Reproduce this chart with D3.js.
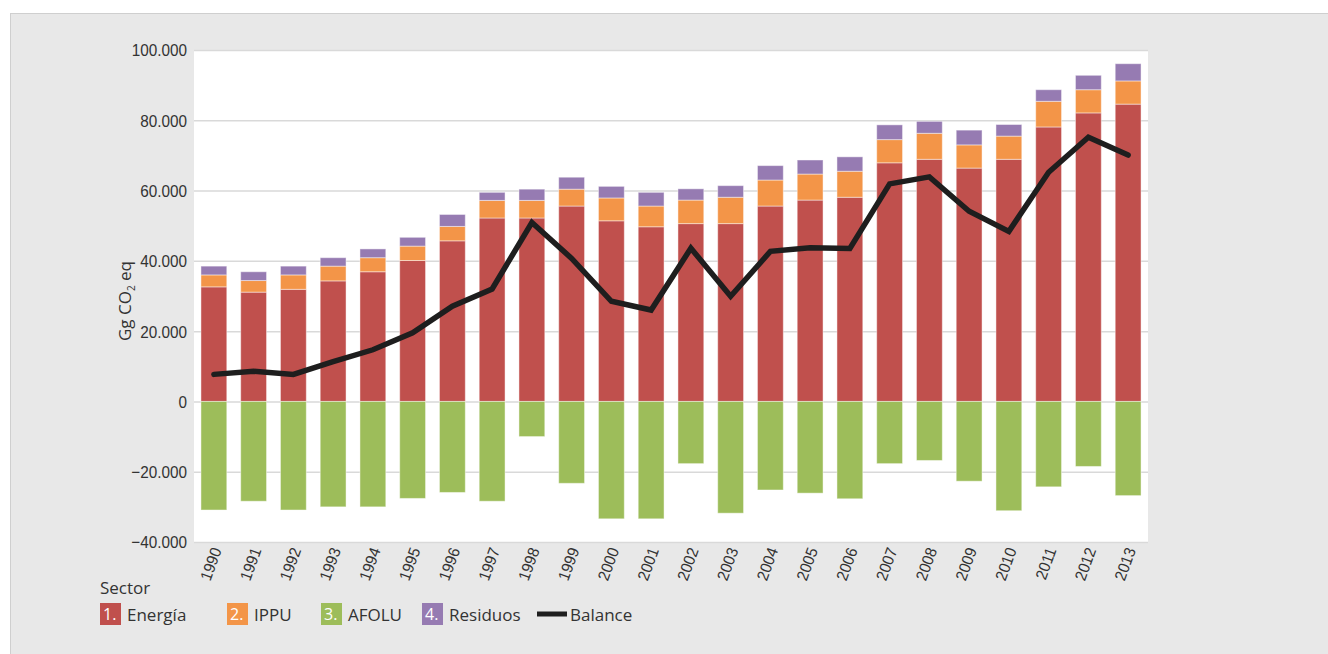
<!DOCTYPE html>
<html>
<head>
<meta charset="utf-8">
<script src="https://cdn.jsdelivr.net/npm/d3@7"></script>
<style>
  html, body { margin: 0; padding: 0; background: #ffffff; }
  svg { display: block; }
</style>
</head>
<body>
<svg id="chart" width="1328" height="654"></svg>
<script>
// ---- Data (Gg CO2 eq) ----
const years = ["1990","1991","1992","1993","1994","1995","1996","1997","1998","1999","2000","2001",
               "2002","2003","2004","2005","2006","2007","2008","2009","2010","2011","2012","2013"];
const energia  = [32600,31100,31900,34300,36900,40100,45700,52200,52200,55600,51400,49700,
                  50600,50600,55600,57300,58100,67900,68900,66400,68900,78100,82100,84600];
const ippu     = [3400,3300,4100,4200,4000,4100,4100,5000,5000,4800,6500,5900,
                  6700,7500,7400,7400,7400,6600,7400,6600,6600,7300,6600,6600];
const afolu    = [-30900,-28400,-30900,-30000,-30000,-27600,-25900,-28400,-10000,-23300,-33400,-33400,
                  -17700,-31800,-25200,-26100,-27700,-17700,-16800,-22700,-31100,-24300,-18500,-26800];
const residuos = [2500,2500,2500,2400,2500,2500,3400,2300,3200,3400,3300,3900,
                  3200,3300,4100,4000,4100,4200,3400,4200,3300,3300,4100,4900];
const balance  = [7700,8600,7700,11300,14700,19500,27100,32000,50900,40700,28500,26000,
                  43600,29900,42700,43700,43500,61900,63900,54100,48400,65200,75200,70100];
const yTicks = [-40000,-20000,0,20000,40000,60000,80000,100000];
const seriesKeys = ["energia","ippu","afolu","residuos"];
const seriesNames = ["Energía","IPPU","AFOLU","Residuos"];
const seriesNums = ["1.","2.","3.","4."];
const colors = {energia:"#c0504d", ippu:"#f39548", afolu:"#9dbd5a", residuos:"#967bb2"};

// ---- Setup ----
const svg = d3.select("#chart");
const W = 1328, H = 654;
const mLeft = 194, mRight = 1148, mTop = 50, mBottom = 542;

// panel background
svg.append("rect").attr("x", 0).attr("y", 0).attr("width", W).attr("height", H).attr("fill", "#ffffff");
svg.append("rect").attr("x", 10.5).attr("y", 13.5).attr("width", W).attr("height", H)
   .attr("fill", "#e8e8e8").attr("stroke", "#cfcfcf").attr("stroke-width", 1);
// plot area
svg.append("rect").attr("x", mLeft).attr("y", mTop).attr("width", mRight - mLeft).attr("height", mBottom - mTop)
   .attr("fill", "#ffffff");

const locale = d3.formatLocale({decimal: ",", thousands: ".", grouping: [3], currency: ["", ""]});
const fmt = locale.format(",.0f");

const x = d3.scaleBand().domain(years).range([mLeft, mRight]).paddingInner(0.35).paddingOuter(0.175);
const y = d3.scaleLinear().domain([-40000, 100000]).range([mBottom, mTop]);

// gridlines
const grid = svg.append("g").attr("transform", `translate(${mLeft},0)`)
  .call(d3.axisLeft(y).tickValues(yTicks).tickSize(-(mRight - mLeft)).tickFormat(""));
grid.select(".domain").remove();
grid.selectAll("line").attr("stroke", "#d9d9d9").attr("stroke-width", 1.5);

// y axis labels
const tickFont = "'Liberation Sans Narrow', 'Arial Narrow', 'Liberation Sans', sans-serif";
const yAxis = svg.append("g").attr("transform", `translate(${mLeft - 7},0)`)
  .call(d3.axisLeft(y).tickValues(yTicks).tickSize(0).tickPadding(0).tickFormat(d => fmt(d)));
yAxis.select(".domain").remove();
yAxis.selectAll("text")
  .attr("font-family", tickFont)
  .attr("font-size", 17).attr("fill", "#333333").attr("dy", "0.35em")
  .attr("transform", "scale(0.9,1)");

// stacked bars
const rows = years.map((yr, i) => ({year: yr, energia: energia[i], ippu: ippu[i], afolu: afolu[i], residuos: residuos[i]}));
const stack = d3.stack().keys(seriesKeys).offset(d3.stackOffsetDiverging);
const stacked = stack(rows);

svg.append("g").selectAll("g").data(stacked).join("g")
  .attr("fill", d => colors[d.key])
  .selectAll("rect").data(d => d).join("rect")
  .attr("x", d => x(d.data.year))
  .attr("width", x.bandwidth())
  .attr("y", d => y(Math.max(d[0], d[1])))
  .attr("height", d => Math.abs(y(d[0]) - y(d[1])))
  .attr("stroke", "rgba(255,255,255,0.45)")
  .attr("stroke-width", 1);

// balance line
const line = d3.line().x((d, i) => x(years[i]) + x.bandwidth() / 2).y(d => y(d));
svg.append("path").datum(balance).attr("d", line)
  .attr("fill", "none").attr("stroke", "#1e1e1e").attr("stroke-width", 5.5)
  .attr("stroke-linejoin", "miter").attr("stroke-linecap", "round");

// x axis labels
const xAxis = svg.append("g").attr("transform", `translate(0,${mBottom})`)
  .call(d3.axisBottom(x).tickSize(0).tickPadding(0));
xAxis.select(".domain").remove();
xAxis.selectAll("text")
  .attr("font-family", tickFont)
  .attr("font-size", 16).attr("fill", "#333333")
  .attr("text-anchor", "end")
  .attr("y", 0).attr("dy", 0)
  .attr("transform", "translate(8,8) rotate(-70) scale(0.95,1)");

// y axis title
const yTitle = svg.append("text")
  .attr("transform", "translate(131,301) rotate(-90)")
  .attr("text-anchor", "middle")
  .attr("font-family", "'Open Sans', 'Noto Sans', sans-serif")
  .attr("font-size", 17).attr("fill", "#333333");
yTitle.append("tspan").text("Gg CO");
yTitle.append("tspan").text("2").attr("font-size", 10).attr("dy", 4);
yTitle.append("tspan").text(" eq").attr("dy", -4);

// legend
const legFont = "'Open Sans', 'Noto Sans', sans-serif";
svg.append("text").attr("x", 100).attr("y", 594).text("Sector")
  .attr("font-family", legFont).attr("font-size", 17).attr("fill", "#333333");

const legX = [100, 227, 321, 422];
const leg = svg.append("g");
seriesKeys.forEach((k, i) => {
  const g = leg.append("g").attr("transform", `translate(${legX[i]},603)`);
  g.append("rect").attr("width", 21).attr("height", 22).attr("fill", colors[k]);
  g.append("text").attr("x", 3).attr("y", 17).text(seriesNums[i])
    .attr("font-family", legFont).attr("font-size", 16).attr("fill", "#ffffff");
  g.append("text").attr("x", 27).attr("y", 18).text(seriesNames[i])
    .attr("font-family", legFont).attr("font-size", 17).attr("fill", "#333333");
});
svg.append("line").attr("x1", 537).attr("x2", 567).attr("y1", 614).attr("y2", 614)
  .attr("stroke", "#1e1e1e").attr("stroke-width", 5);
svg.append("text").attr("x", 570).attr("y", 621).text("Balance")
  .attr("font-family", legFont).attr("font-size", 17).attr("fill", "#333333");
</script>
</body>
</html>
